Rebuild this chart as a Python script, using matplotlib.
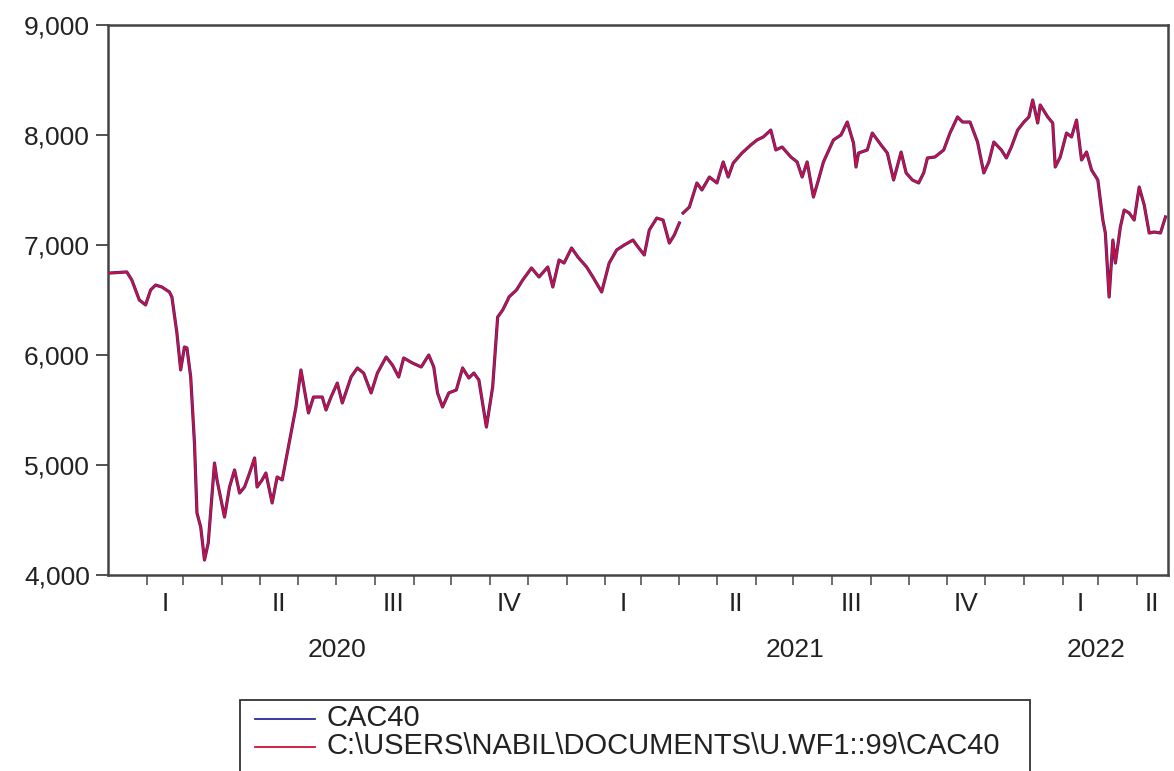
import numpy as np
import pandas as pd
import matplotlib
matplotlib.use("Agg")
import matplotlib.pyplot as plt
from matplotlib.patches import Rectangle
from matplotlib.lines import Line2D

plt.rcParams['font.family'] = ['Liberation Sans', 'DejaVu Sans']

NAN = float('nan')

dates = [
    "2020-01-02", "2020-01-16", "2020-01-20", "2020-01-26", "2020-01-31", "2020-02-04",
    "2020-02-08", "2020-02-13", "2020-02-19", "2020-02-21", "2020-02-25", "2020-02-28",
    "2020-03-02", "2020-03-04", "2020-03-07", "2020-03-10", "2020-03-12", "2020-03-15",
    "2020-03-18", "2020-03-21", "2020-03-26", "2020-03-28", "2020-04-03", "2020-04-07",
    "2020-04-11", "2020-04-15", "2020-04-19", "2020-04-23", "2020-04-27", "2020-04-29",
    "2020-05-03", "2020-05-06", "2020-05-11", "2020-05-15", "2020-05-19", "2020-05-25",
    "2020-05-30", "2020-06-03", "2020-06-09", "2020-06-13", "2020-06-20", "2020-06-23",
    "2020-06-27", "2020-07-02", "2020-07-06", "2020-07-13", "2020-07-18", "2020-07-23",
    "2020-07-29", "2020-08-03", "2020-08-10", "2020-08-15", "2020-08-20", "2020-08-24",
    "2020-08-31", "2020-09-07", "2020-09-13", "2020-09-17", "2020-09-20", "2020-09-24",
    "2020-09-29", "2020-10-05", "2020-10-10", "2020-10-15", "2020-10-19", "2020-10-23",
    "2020-10-29", "2020-11-03", "2020-11-07", "2020-11-11", "2020-11-15", "2020-11-16",
    "2020-11-22", "2020-11-27", "2020-12-04", "2020-12-10", "2020-12-17", "2020-12-21",
    "2020-12-26", "2020-12-30", "2021-01-05", "2021-01-10", "2021-01-17", "2021-01-22",
    "2021-01-29", "2021-02-04", "2021-02-10", "2021-02-16", "2021-02-23", "2021-02-27",
    "2021-03-04", "2021-03-08", "2021-03-14", "2021-03-19", "2021-03-24", "2021-03-28",
    "2021-04-01", "2021-04-02", "2021-04-04", "2021-04-09", "2021-04-15", "2021-04-19",
    "2021-04-25", "2021-05-01", "2021-05-06", "2021-05-10", "2021-05-14", "2021-05-21",
    "2021-05-28", "2021-06-02", "2021-06-07", "2021-06-13", "2021-06-17", "2021-06-22",
    "2021-06-29", "2021-07-04", "2021-07-08", "2021-07-12", "2021-07-17", "2021-07-21",
    "2021-07-25", "2021-08-02", "2021-08-08", "2021-08-13", "2021-08-18", "2021-08-20",
    "2021-08-22", "2021-08-29", "2021-09-02", "2021-09-09", "2021-09-14", "2021-09-19",
    "2021-09-25", "2021-09-29", "2021-10-04", "2021-10-09", "2021-10-13", "2021-10-16",
    "2021-10-22", "2021-10-29", "2021-11-03", "2021-11-09", "2021-11-13", "2021-11-19",
    "2021-11-25", "2021-11-30", "2021-12-04", "2021-12-08", "2021-12-14", "2021-12-18",
    "2021-12-22", "2021-12-27", "2022-01-01", "2022-01-05", "2022-01-08", "2022-01-12",
    "2022-01-14", "2022-01-20", "2022-01-24", "2022-01-26", "2022-01-30", "2022-02-04",
    "2022-02-08", "2022-02-12", "2022-02-16", "2022-02-20", "2022-02-24", "2022-03-01",
    "2022-03-05", "2022-03-07", "2022-03-10", "2022-03-13", "2022-03-15", "2022-03-19",
    "2022-03-22", "2022-03-26", "2022-03-30", "2022-04-03", "2022-04-07", "2022-04-11",
    "2022-04-15", "2022-04-20", "2022-04-24",
]

cac40 = [
    6745, 6755, 6682, 6500, 6455, 6591,
    6636, 6618, 6573, 6527, 6200, 5864,
    6073, 6064, 5800, 5200, 4564, 4436,
    4136, 4291, 5018, 4864, 4527, 4800,
    4955, 4745, 4800, 4927, 5064, 4800,
    4864, 4927, 4655, 4891, 4864, 5227,
    5527, 5864, 5473, 5618, 5618, 5500,
    5618, 5745, 5564, 5800, 5882, 5836,
    5655, 5836, 5982, 5909, 5800, 5973,
    5927, 5891, 6000, 5891, 5655, 5527,
    5655, 5682, 5882, 5791, 5836, 5773,
    5345, 5709, 6345, 6409, 6500, 6527,
    6591, 6682, 6791, 6709, 6800, 6618,
    6864, 6836, 6973, 6891, 6800, 6709,
    6573, 6836, 6955, 7000, 7045, 6982,
    6909, 7136, 7245, 7227, 7018, 7091,
    7200, NAN, 7291, 7345, 7564, 7500,
    7618, 7564, 7755, 7618, 7745, 7836,
    7909, 7955, 7982, 8045, 7864, 7891,
    7800, 7755, 7618, 7755, 7436, 7591,
    7755, 7955, 8000, 8118, 7927, 7709,
    7836, 7864, 8018, 7909, 7836, 7591,
    7845, 7655, 7591, 7564, 7655, 7791,
    7800, 7864, 8018, 8164, 8118, 8118,
    7936, 7655, 7755, 7936, 7864, 7791,
    7891, 8045, 8118, 8164, 8318, 8109,
    8273, 8164, 8109, 7709, 7800, 8018,
    7982, 8136, 7773, 7845, 7682, 7591,
    7227, 7109, 6527, 7045, 6836, 7164,
    7318, 7291, 7227, 7527, 7364, 7109,
    7118, 7109, 7255,
]

y_ticks = [4000, 5000, 6000, 7000, 8000, 9000]
quarter_labels = ["I", "II", "III", "IV"]
years = [2020, 2021, 2022]
legend_labels = ["CAC40", "C:\\USERS\\NABIL\\DOCUMENTS\\U.WF1::99\\CAC40"]

x = pd.to_datetime(dates)
y = np.array(cac40, dtype=float)

W, H = 1174, 771
fig = plt.figure(figsize=(W / 100, H / 100), dpi=100)
ax = fig.add_axes([108 / W, 1 - 575 / H, (1168 - 108) / W, (575 - 25) / H])

ax.plot(x, y, color="#2a2a9a", lw=2.3, solid_joinstyle="round", zorder=2)
ax.plot(x, y, color="#cc1038", lw=1.5, solid_joinstyle="round", zorder=3)

xmin = pd.Timestamp("2020-01-01")
xmax = pd.Timestamp("2022-04-26")
ax.set_xlim(xmin, xmax)
ax.set_ylim(4000, 9000)

ax.set_yticks(y_ticks)
ax.set_yticklabels([f"{v:,}" for v in y_ticks])
ax.tick_params(axis="y", direction="out", length=9, width=1.2, color="#333333",
               labelsize=19, pad=4, labelcolor="#222222")

months = pd.date_range("2020-02-01", "2022-04-01", freq="MS")
ax.set_xticks(months)
ax.set_xticklabels([])
ax.tick_params(axis="x", direction="out", length=7, width=1.2, color="#555555")

for s in ax.spines.values():
    s.set_color("#444444")
    s.set_linewidth(1.8)

trans = ax.get_xaxis_transform()
qstarts = pd.date_range("2020-01-01", "2022-04-01", freq="QS")
for qs in qstarts:
    qe = qs + pd.offsets.QuarterBegin(startingMonth=1)
    b = min(qe, xmax)
    mid = qs + (b - qs) / 2
    ax.text(mid, -0.052, quarter_labels[(qs.month - 1) // 3], transform=trans,
            ha="center", va="center", fontsize=19, color="#222222")

for yr in years:
    a = pd.Timestamp(f"{yr}-01-01")
    b = min(pd.Timestamp(f"{yr + 1}-01-01"), xmax)
    mid = a + (b - a) / 2
    ax.text(mid, -0.136, str(yr), transform=trans, ha="center", va="center",
            fontsize=19, color="#222222")

# legend box (cut by the bottom of the figure)
box = Rectangle((240 / W, -0.05), (1030 - 240) / W, (771 - 700) / H + 0.05,
                transform=fig.transFigure, fill=False, edgecolor="#333333",
                lw=1.3, clip_on=False)
fig.patches.append(box)
for i, (lab, col) in enumerate(zip(legend_labels, ["#2a2a9a", "#cc1038"])):
    yy = 1 - (719 + i * 28) / H
    fig.add_artist(Line2D([255 / W, 315 / W], [yy, yy], color=col, lw=1.3,
                          transform=fig.transFigure))
    fig.text(326 / W, yy + 1 / H, lab, ha="left", va="center", fontsize=21,
             color="#222222")

fig.savefig("out.png", dpi=100)
